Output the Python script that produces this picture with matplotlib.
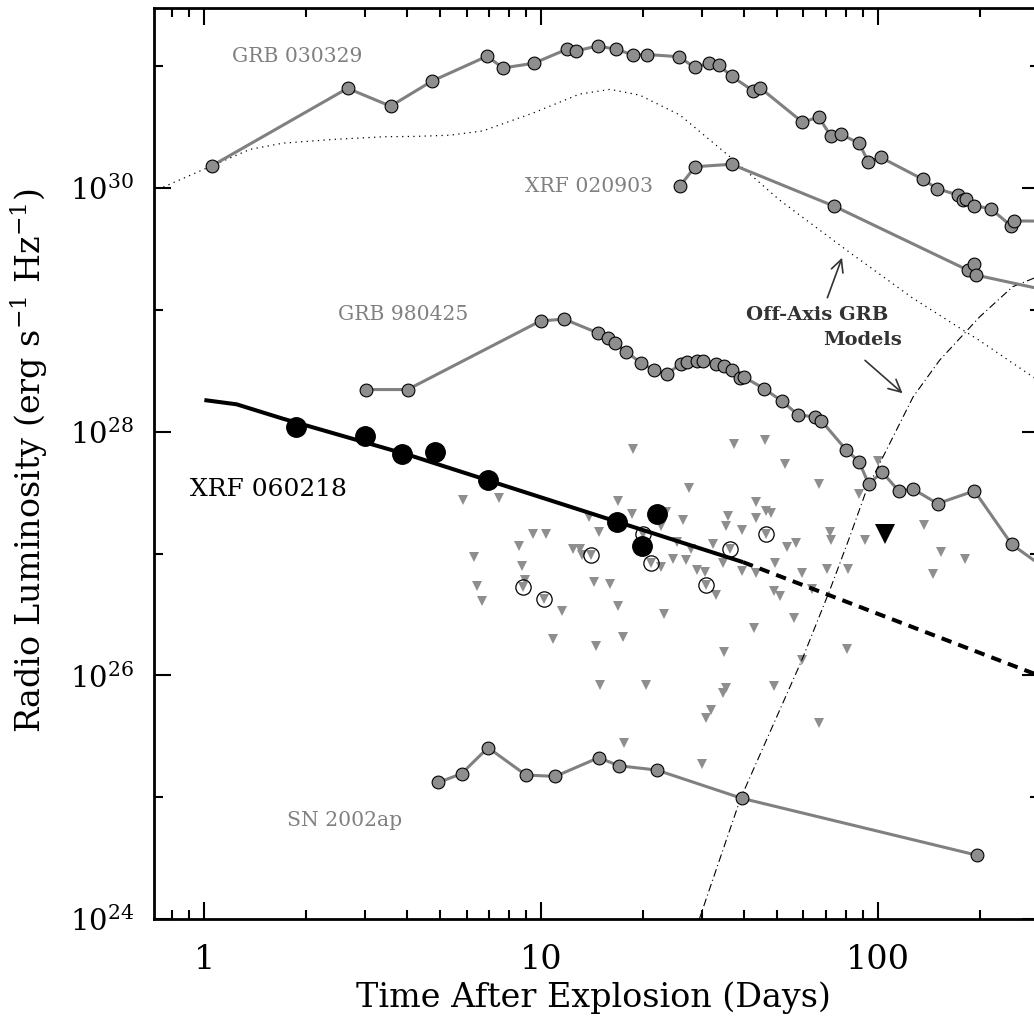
import matplotlib
matplotlib.use('Agg')
import matplotlib.pyplot as plt
from matplotlib.ticker import FixedLocator, NullFormatter, LogFormatterMathtext

plt.rcParams['font.family'] = ['DejaVu Serif']
plt.rcParams['mathtext.fontset'] = 'dejavuserif'

GREY = '#808080'
FILL = '#8e8e8e'

# GRB 030329 light curve (days, erg/s/Hz)
grb030329_t = [1.05, 2.66, 3.57, 4.74, 6.9, 7.7, 9.5, 11.9, 12.7, 14.7,
               16.7, 18.7, 20.6, 25.6, 28.5, 31.5, 33.7, 36.7, 42.5, 44.6,
               59.6, 66.6, 72.4, 77.8, 87.8, 93.5, 101.7, 135.8, 149.5, 173,
               178.5, 182.7, 192, 216, 248, 253, 340]
grb030329_L = [1.52e30, 6.6e30, 4.71e30, 7.57e30, 1.21e31, 9.7e30, 1.06e31, 1.38e31, 1.34e31, 1.47e31,
               1.38e31, 1.24e31, 1.25e31, 1.2e31, 9.8e30, 1.06e31, 1.02e31, 8.3e30, 6.3e30, 6.67e30,
               3.48e30, 3.83e30, 2.67e30, 2.76e30, 2.33e30, 1.64e30, 1.79e30, 1.18e30, 9.9e29, 8.76e29,
               7.97e29, 8.12e29, 7.2e29, 6.76e29, 4.9e29, 5.38e29, 5.35e29]

# XRF 020903
xrf020903_t = [25.8, 28.6, 36.7, 74.1, 184.6, 192.4, 195.6, 323]
xrf020903_L = [1.04e30, 1.5e30, 1.57e30, 7.1e29, 2.12e29, 2.4e29, 1.93e29, 1.43e29]

# GRB 980425
grb980425_t = [3.01, 4.01, 9.95, 11.7, 14.7, 15.8, 16.5, 17.9, 19.7, 21.6,
               23.6, 25.9, 27.0, 28.9, 30.1, 32.9, 34.8, 36.9, 38.8, 39.9,
               45.8, 51.7, 57.8, 64.8, 67.8, 80.5, 87.7, 93.6, 102.8, 115,
               126.8, 150, 193, 249, 323]
grb980425_L = [2.22e28, 2.22e28, 8.13e28, 8.4e28, 6.48e28, 5.83e28, 5.37e28, 4.52e28, 3.7e28, 3.2e28,
               3.0e28, 3.58e28, 3.74e28, 3.79e28, 3.79e28, 3.63e28, 3.45e28, 3.2e28, 2.77e28, 2.82e28,
               2.26e28, 1.79e28, 1.38e28, 1.32e28, 1.23e28, 7.05e27, 5.69e27, 3.75e27, 4.65e27, 3.27e27,
               3.39e27, 2.57e27, 3.27e27, 1.19e27, 7.1e26]

# SN 2002ap
sn2002ap_t = [4.95, 5.8, 6.95, 9.0, 11.0, 14.8, 17.0, 22.0, 39.3, 197]
sn2002ap_L = [1.32e25, 1.56e25, 2.55e25, 1.52e25, 1.48e25, 2.11e25, 1.81e25, 1.67e25, 9.8e24, 3.33e24]

# XRF 060218 detections, upper limit and model
xrf060218_t = [1.865, 2.995, 3.85, 4.83, 6.95, 16.8, 19.9, 22.0]
xrf060218_L = [1.097e28, 9.18e27, 6.53e27, 6.83e27, 3.98e27, 1.82e27, 1.15e27, 2.1e27]
xrf060218_lim_t = [104.6]
xrf060218_lim_L = [1.46e27]
fit_t = [1.0, 1.246, 1.71, 4.07, 39.7]
fit_L = [1.82e28, 1.68e28, 1.28e28, 6.41e27, 8.5e26]
extrap_t = [39.7, 283, 323]
extrap_L = [8.5e26, 1.06e26, 9.3e25]

# Off-axis GRB models
dotted_t = [0.755, 1.05, 1.365, 1.71, 2.41, 3.39, 4.26, 5.35, 6.7, 9.44,
            13.0, 16.0, 19.6, 25.8, 36.3, 51, 80.5, 126.6, 200, 289, 323]
dotted_L = [1.02e30, 1.52e30, 2.08e30, 2.34e30, 2.51e30, 2.64e30, 2.66e30, 2.72e30, 2.95e30, 4.13e30,
            5.92e30, 6.47e30, 5.8e30, 3.98e30, 1.81e30, 7.97e29, 3.1e29, 1.25e29, 5.6e28, 2.8e28, 2.3e28]
dashdot_t = [27.6, 29.45, 39.0, 59.3, 71.8, 82.3, 92.2, 105.7, 126.9, 152.2,
             200, 250.6, 289.3, 323]
dashdot_L = [5.5e23, 1e24, 9.7e24, 1.33e26, 4.99e26, 1.37e27, 3.3e27, 7.05e27, 1.93e28, 3.87e28,
             8.77e28, 1.55e29, 1.82e29, 2.0e29]

# Upper limits on local Ibc supernovae
lim_t = [18.7, 37.3, 46.1, 53.0, 66.6, 27.5, 5.84, 7.5, 16.9, 43.5,
         18.6, 23.5, 46.6, 47.9, 35.8, 43.3, 13.9, 26.4, 22.6, 35.4,
         39.3, 71.8, 72.3, 9.46, 10.3, 14.8, 20.0, 46.6, 8.58, 12.4,
         13.0, 13.2, 14.0, 25.2, 27.9, 32.3, 36.3, 53.6, 57.2, 6.3,
         8.77, 21.2, 22.7, 24.6, 26.8, 28.9, 30.6, 34.6, 39.3, 43.5,
         49.3, 59.2, 70.5, 81.4, 8.95, 8.83, 6.45, 14.3, 16.0, 30.9,
         33.1, 49.0, 51.0, 63.6, 6.65, 10.2, 11.5, 16.9, 23.1, 56.2,
         42.7, 10.8, 14.5, 17.5, 34.9, 80.8, 59.6, 14.9, 20.5, 49.0,
         34.6, 35.4, 32.0, 30.8, 66.7, 17.6, 30.0, 87.7, 99.9, 136.5,
         154, 180.6, 145.4, 91.2]
lim_L = [7.28e27, 7.9e27, 8.5e27, 5.48e27, 3.7e27, 3.48e27, 2.74e27, 2.88e27, 2.69e27, 2.65e27,
         2.13e27, 2.19e27, 2.23e27, 2.15e27, 2.02e27, 1.94e27, 2.0e27, 1.88e27, 1.67e27, 1.67e27,
         1.55e27, 1.5e27, 1.29e27, 1.46e27, 1.46e27, 1.5e27, 1.46e27, 1.46e27, 1.15e27, 1.08e27,
         1.1e27, 9.7e26, 9.7e26, 1.24e27, 1.1e27, 1.19e27, 1.08e27, 1.13e27, 1.21e27, 9.4e26,
         7.9e26, 8.3e26, 7.76e26, 8.98e26, 8.8e26, 7.3e26, 7.05e26, 8.36e26, 7.2e26, 6.97e26,
         8.36e26, 6.9e26, 7.5e26, 7.4e26, 6.1e26, 5.3e26, 5.4e26, 5.8e26, 5.6e26, 5.56e26,
         4.6e26, 4.9e26, 4.5e26, 5.15e26, 4.07e26, 4.2e26, 3.36e26, 3.69e26, 3.16e26, 2.98e26,
         2.45e26, 1.99e26, 1.73e26, 2.05e26, 1.55e26, 1.66e26, 1.33e26, 8.3e25, 8.4e25, 8.2e25,
         7.2e25, 7.8e25, 5.2e25, 4.5e25, 4.08e25, 2.8e25, 1.88e25, 3.07e27, 5.8e27, 1.71e27,
         1.03e27, 9.1e26, 6.8e26, 1.29e27]

# circled limits
circ_t = [8.83, 10.2, 14.0, 20.0, 21.2, 30.9, 36.3, 46.6]
circ_L = [5.3e26, 4.2e26, 9.7e26, 1.46e27, 8.3e26, 5.56e26, 1.08e27, 1.46e27]

x_ticks = [1, 10, 100]
x_ticklabels = ['1', '10', '100']
y_major = [1e24, 1e26, 1e28, 1e30]
y_minor = [1e25, 1e27, 1e29, 1e31]


def main():
    fig = plt.figure(figsize=(10.34, 10.27), dpi=100)
    ax = fig.add_axes([0.1486, 0.1052, 0.8562, 0.8868])
    ax.set_xscale('log')
    ax.set_yscale('log')

    ax.plot(lim_t, lim_L, 'v', ms=6.8, color=FILL, mew=0, zorder=1)
    ax.plot(circ_t, circ_L, 'o', ms=11, mfc='none', mec='black', mew=0.9, zorder=2)

    ax.plot(dotted_t, dotted_L, color='black', lw=0.9, ls=(0, (1, 3.5)), zorder=1.5)
    ax.plot(dashdot_t, dashdot_L, color='black', lw=0.8, ls=(0, (7, 3, 1, 3)), zorder=1.5)

    for t, L in [(grb030329_t, grb030329_L), (xrf020903_t, xrf020903_L),
                 (grb980425_t, grb980425_L), (sn2002ap_t, sn2002ap_L)]:
        ax.plot(t, L, '-o', color=GREY, lw=2.2, ms=9.2, mfc=FILL, mec='black', mew=0.8, zorder=3)

    ax.plot(fit_t, fit_L, color='black', lw=2.9, solid_capstyle='butt', zorder=4)
    ax.plot(extrap_t, extrap_L, color='black', lw=2.9, dashes=(2.6, 1.8), zorder=4)
    ax.plot(xrf060218_t, xrf060218_L, 'o', color='black', ms=14, zorder=5)
    ax.plot(xrf060218_lim_t, xrf060218_lim_L, 'v', color='black', ms=14, mew=0, zorder=5)

    ax.set_xlim(0.707, 300)
    ax.set_ylim(1e24, 3e31)

    ax.xaxis.set_major_locator(FixedLocator(x_ticks))
    ax.set_xticklabels(x_ticklabels)
    ax.xaxis.set_minor_formatter(NullFormatter())
    ax.yaxis.set_major_locator(FixedLocator(y_major))
    ax.yaxis.set_minor_locator(FixedLocator(y_minor))
    ax.yaxis.set_major_formatter(LogFormatterMathtext())
    ax.yaxis.set_minor_formatter(NullFormatter())

    ax.tick_params(which='both', direction='in', top=True, right=True, colors='black')
    ax.tick_params(which='major', length=12.5, width=1.5)
    ax.tick_params(which='minor', length=6.5, width=1.5)
    ax.tick_params(axis='x', which='major', labelsize=24, pad=18)
    ax.tick_params(axis='y', which='major', labelsize=21, pad=14)
    for sp in ax.spines.values():
        sp.set_linewidth(2.0)

    ax.set_xlabel('Time After Explosion (Days)', fontsize=24)
    ax.xaxis.set_label_coords(0.497, -0.068)
    ax.xaxis.label.set_va('top')
    ax.set_ylabel(r'Radio Luminosity (erg s$^{-1}$ Hz$^{-1}$)', fontsize=24)
    ax.yaxis.set_label_coords(-0.117, 0.503)

    lab = dict(transform=ax.transAxes, va='center', fontsize=14.6, color=GREY)
    ax.text(0.0884, 0.9465, 'GRB 030329', **lab)
    ax.text(0.4194, 0.8038, 'XRF 020903', **lab)
    ax.text(0.2082, 0.6632, 'GRB 980425', **lab)
    ax.text(0.1506, 0.1076, 'SN 2002ap', **lab)
    ax.text(0.0410, 0.4711, 'XRF 060218', transform=ax.transAxes, va='center',
            fontsize=18, color='black')

    ax.text(0.7492, 0.6632, 'Off-Axis GRB', transform=ax.transAxes, ha='center', va='center',
            fontsize=14, fontweight='bold', color='#333333')
    ax.text(0.8012, 0.6358, 'Models', transform=ax.transAxes, ha='center', va='center',
            fontsize=14, fontweight='bold', color='#333333')
    arrow = dict(arrowstyle='->', color='#333333', lw=1.2, mutation_scale=22)
    ax.annotate('', xy=(78.6, 2.82e29), xytext=(70.2, 1.2e29), arrowprops=arrow)
    ax.annotate('', xy=(119.8, 2.0e28), xytext=(90.1, 3.99e28), arrowprops=arrow)

    fig.savefig('out.png', dpi=100)
    plt.close(fig)


if __name__ == '__main__':
    main()
